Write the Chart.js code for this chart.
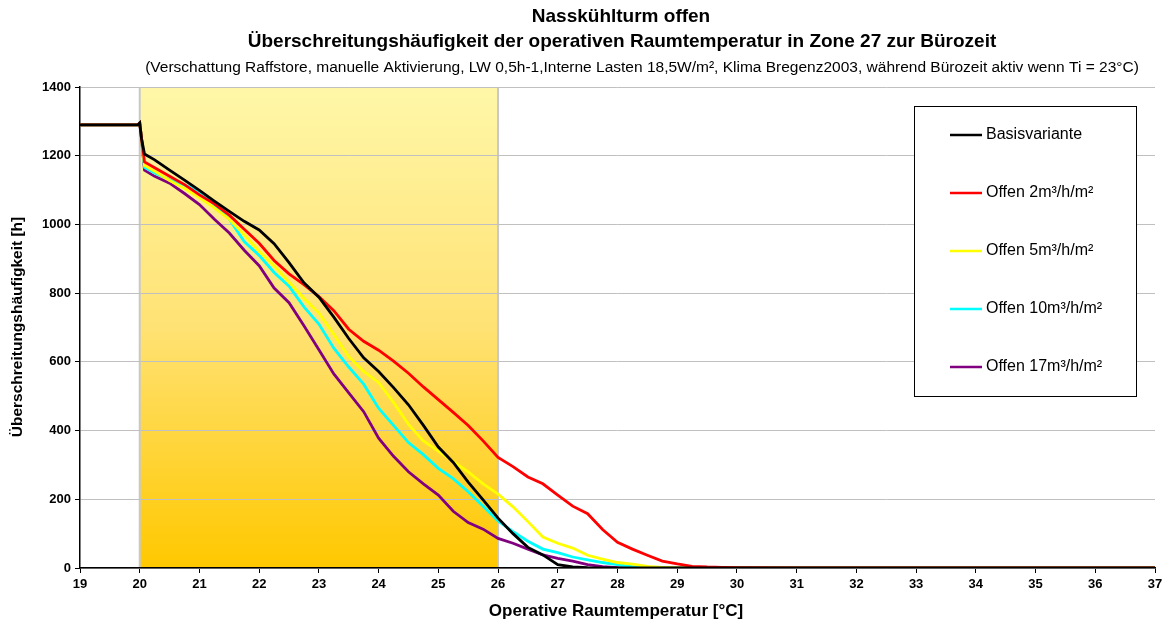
<!DOCTYPE html>
<html><head><meta charset="utf-8">
<script src="https://cdn.jsdelivr.net/npm/chart.js@4.4.1/dist/chart.umd.min.js"></script>
<style>html,body{margin:0;padding:0;background:#fff}#wrap{width:1167px;height:630px}</style>
</head><body><div id="wrap"><canvas id="c" width="1167" height="630"></canvas></div>
<script>
const titleLine1 = "Nasskühlturm offen";
const titleLine2 = "Überschreitungshäufigkeit der operativen Raumtemperatur in Zone 27 zur Bürozeit";
const subtitle = "(Verschattung Raffstore, manuelle Aktivierung, LW 0,5h-1,Interne Lasten 18,5W/m², Klima Bregenz2003, während Bürozeit aktiv wenn Ti = 23°C)";
const xTitle = "Operative Raumtemperatur [°C]";
const yTitle = "Überschreitungshäufigkeit [h]";
const seriesNames = ["Basisvariante","Offen 2m³/h/m²","Offen 5m³/h/m²","Offen 10m³/h/m²","Offen 17m³/h/m²"];
const seriesColors = ["#000000","#FF0000","#FFFF00","#00FFFF","#800080"];
const bandRange = [20, 26];

const temps = [19,19.97,20.0,20.03,20.08,
 20.25,20.5,20.75,21,21.25,21.5,21.75,22,22.25,22.5,22.75,23,23.25,23.5,23.75,24,24.25,24.5,24.75,25,25.25,25.5,25.75,26,26.25,26.5,26.75,27,27.25,27.5,27.75,28,28.25,28.5,28.75,29,29.25,29.5,29.75,30,
 31,32,33,34,35,36,37];

const basis = [1290,1290,1295,1250,1205,
 1188,1158,1129,1099,1068,1038,1009,984,944,889,830,788,730,668,612,572,525,475,415,352,307,250,198,145,100,60,38,10,3,1,0,0,0,0,0,0,0,0,0,0,
 0,0,0,0,0,0,0];
const offen2 = [1290,1290,1295,1250,1182,
 1165,1140,1116,1086,1060,1027,986,945,895,856,825,790,749,695,660,634,602,567,527,490,453,415,370,322,295,265,245,212,180,158,112,75,55,37,20,12,5,3,2,1,
 0,0,0,0,0,0,0];
const offen5 = [1290,1290,1295,1250,1172,
 1155,1128,1105,1078,1048,1015,970,922,880,832,785,742,680,615,572,540,482,418,370,340,310,280,245,215,178,135,90,72,58,37,26,16,11,5,2,0,0,0,0,0,
 0,0,0,0,0,0,0];
const offen10 = [1290,1290,1295,1250,1166,
 1150,1130,1115,1096,1058,1015,950,910,860,820,760,710,640,585,535,465,415,365,330,290,260,222,180,137,106,78,55,45,32,24,16,10,4,1,0,0,0,0,0,0,
 0,0,0,0,0,0,0];
const offen17 = [1290,1290,1295,1250,1158,
 1140,1120,1090,1058,1015,975,925,880,815,772,705,635,565,510,455,378,325,280,245,212,165,132,113,86,72,55,38,28,20,10,4,1,0,0,0,0,0,0,0,0,
 0,0,0,0,0,0,0];
const seriesValues = [basis, offen2, offen5, offen10, offen17];

const FONT = "'Liberation Sans', Arial, sans-serif";

const datasets = seriesValues.map((vals, i) => ({
  label: seriesNames[i],
  data: temps.map((t, k) => ({x: t, y: vals[k]})),
  borderColor: seriesColors[i],
  backgroundColor: seriesColors[i],
  borderWidth: 2.8,
  pointRadius: 0,
  tension: 0,
  fill: false
}));

const bandPlugin = {
  id: 'band',
  beforeDraw(chart) {
    const {ctx, chartArea, scales} = chart;
    const x0 = scales.x.getPixelForValue(bandRange[0]);
    const x1 = scales.x.getPixelForValue(bandRange[1]);
    const top = chartArea.top, bot = chartArea.bottom - 1;
    const g = ctx.createLinearGradient(0, top, 0, bot);
    g.addColorStop(0, '#FFF7A8');
    g.addColorStop(0.5, '#FFE274');
    g.addColorStop(1, '#FFC800');
    ctx.save();
    ctx.fillStyle = g;
    ctx.fillRect(x0, top, x1 - x0, bot - top);
    ctx.strokeStyle = '#C8C8C8';
    ctx.lineWidth = 2;
    ctx.beginPath();
    ctx.moveTo(x0, top); ctx.lineTo(x0, bot);
    ctx.moveTo(x1, top); ctx.lineTo(x1, bot);
    ctx.stroke();
    ctx.restore();
  }
};

const textPlugin = {
  id: 'texts',
  afterDraw(chart) {
    const {ctx} = chart;
    ctx.save();
    ctx.fillStyle = '#000';
    ctx.textAlign = 'center';
    ctx.textBaseline = 'middle';
    ctx.font = 'bold 19px ' + FONT;
    ctx.fillText(titleLine1, 621, 17);
    ctx.fillText(titleLine2, 622, 42);
    ctx.font = '15.5px ' + FONT;
    ctx.fillText(subtitle, 642, 68);
    ctx.font = 'bold 17px ' + FONT;
    ctx.fillText(xTitle, 616, 611);
    ctx.save();
    ctx.translate(18, 327);
    ctx.rotate(-Math.PI / 2);
    ctx.font = 'bold 15.5px ' + FONT;
    ctx.fillText(yTitle, 0, 0);
    ctx.restore();
    // legend
    const bx = 914.5, by = 106.5, bw = 222, bh = 290;
    ctx.fillStyle = '#fff';
    ctx.fillRect(bx, by, bw, bh);
    ctx.strokeStyle = '#000';
    ctx.lineWidth = 1;
    ctx.strokeRect(bx, by, bw, bh);
    ctx.font = '16px ' + FONT;
    ctx.textAlign = 'left';
    chart.data.datasets.forEach((ds, i) => {
      const y = 135 + i * 58;
      ctx.strokeStyle = ds.borderColor;
      ctx.lineWidth = 2.5;
      ctx.beginPath();
      ctx.moveTo(950, y); ctx.lineTo(982, y);
      ctx.stroke();
      ctx.fillStyle = '#000';
      ctx.fillText(ds.label, 986, y);
    });
    ctx.restore();
  }
};

new Chart(document.getElementById('c'), {
  type: 'line',
  data: { datasets },
  options: {
    responsive: false,
    animation: false,
    layout: { padding: { left: 0, top: 87, right: 12, bottom: 0 } },
    plugins: { legend: { display: false }, title: { display: false }, tooltip: { enabled: false } },
    scales: {
      x: {
        type: 'linear', min: 19, max: 37,
        ticks: { stepSize: 1, color: '#000', font: { family: FONT, size: 13, weight: 'bold' }, padding: 4, maxRotation: 0,
                 callback: v => String(v) },
        grid: { drawOnChartArea: false, color: '#000', tickColor: '#000', tickLength: 5 },
        border: { color: '#000', width: 1.5 },
        afterFit(s) { s.height = 62; }
      },
      y: {
        min: 0, max: 1400,
        ticks: { stepSize: 200, color: '#000', font: { family: FONT, size: 13, weight: 'bold' }, padding: 4,
                 callback: v => String(v) },
        grid: { color: '#C0C0C0', tickColor: '#000', tickLength: 5 },
        border: { color: '#000', width: 1.5 },
        afterFit(s) { s.width = 80; }
      }
    }
  },
  plugins: [bandPlugin, textPlugin]
});
</script></body></html>
